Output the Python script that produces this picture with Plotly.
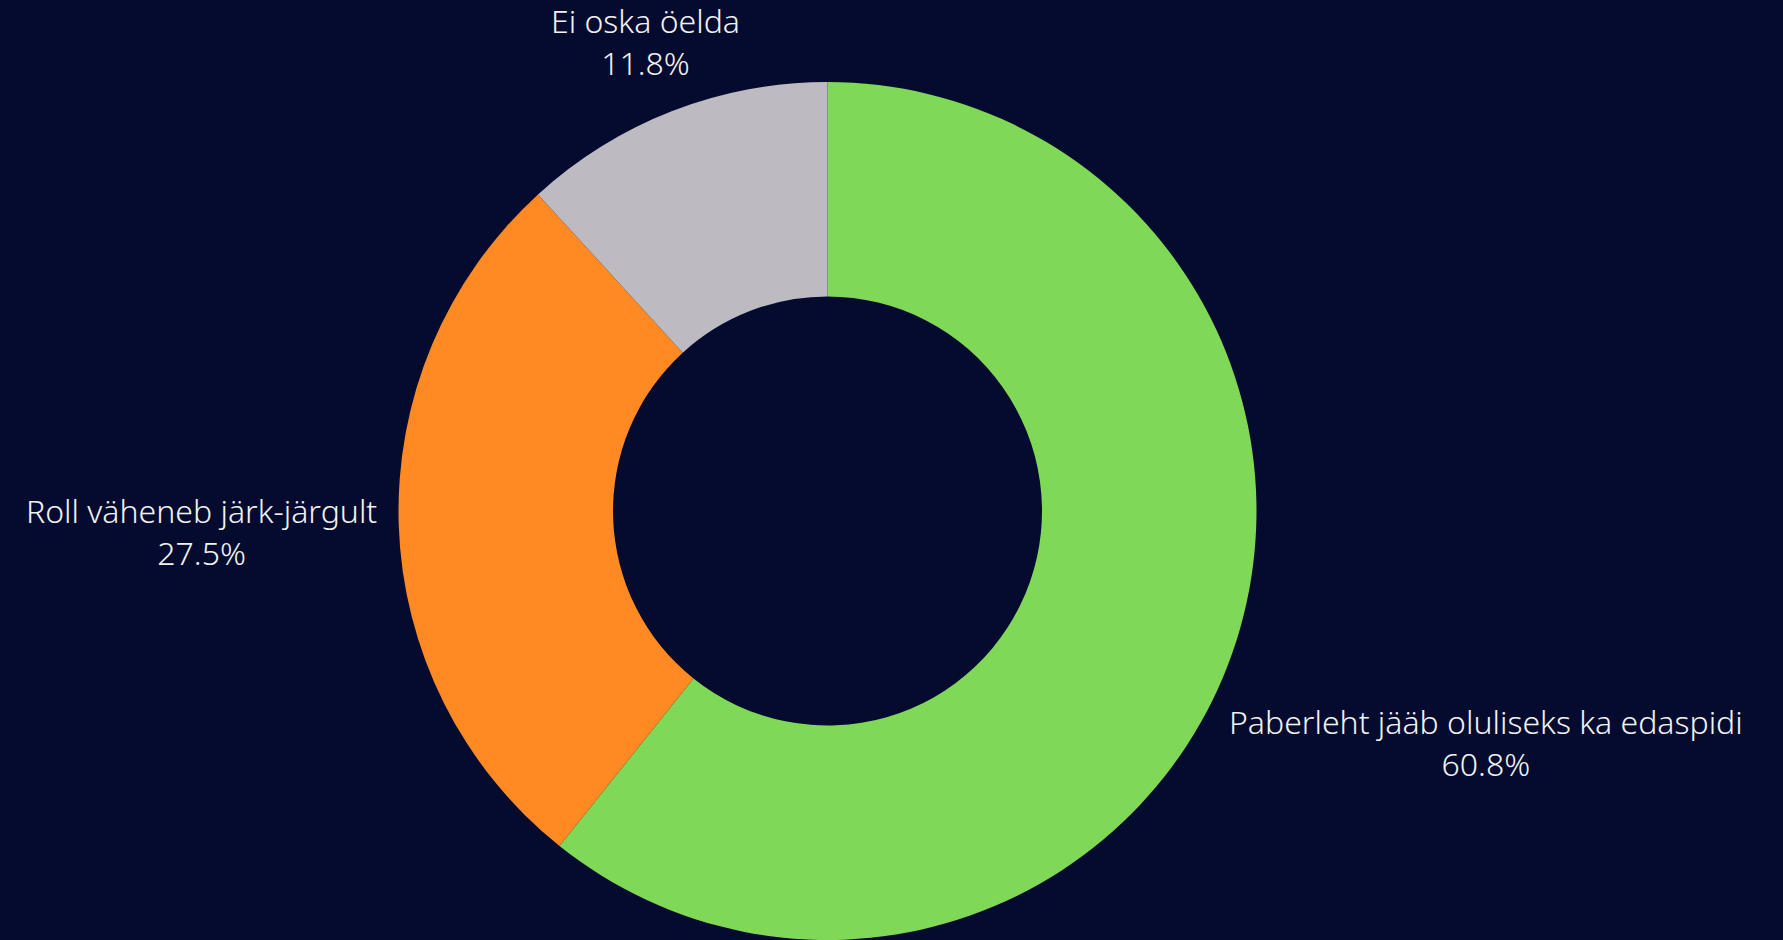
import math
import plotly.graph_objects as go

labels = ["Paberleht jääb oluliseks ka edaspidi", "Roll väheneb järk-järgult", "Ei oska öelda"]
values = [60.8, 27.5, 11.8]
colors = ["#7FD957", "#FF8A24", "#BEBAC1"]

W, H = 1783, 940
mar = dict(l=0, r=128, t=82, b=0)
fs = 32

fig = go.Figure()
fig.add_trace(go.Pie(
    labels=labels, values=values, hole=0.5, sort=False, direction="clockwise",
    marker=dict(colors=colors, line=dict(width=0)),
    textinfo="none", showlegend=False, hoverinfo="label+value",
))

# labels outside, box centred on each slice's mid ray, just clear of the ring
pw = W - mar["l"] - mar["r"]
ph = H - mar["t"] - mar["b"]
R = min(pw, ph) / 2
gap = 16
total = sum(values)
cum = 0
for lab, v in zip(labels, values):
    th = 2 * math.pi * (cum + v / 2) / total
    cum += v
    dx, dy = math.sin(th), math.cos(th)  # y up, like paper coords
    hw = 0.45 * fs * len(lab) / 2
    hh = 1.05 * fs
    t = R
    while True:
        cx = t * dx - math.copysign(hw, dx)
        cy = t * dy - math.copysign(hh, dy)
        if math.hypot(cx, cy) >= R + gap:
            break
        t += 1
    fig.add_annotation(
        x=0.5 + t * dx / pw, y=0.5 + t * dy / ph, xref="paper", yref="paper",
        text=f"{lab}<br>{v}%", showarrow=False, xanchor="center", yanchor="middle",
        font=dict(size=fs, color="#F2F2F2", family="Noto Sans", weight=300),
    )

fig.update_layout(width=W, height=H,
    paper_bgcolor="#040B2F", plot_bgcolor="#040B2F",
    margin=mar, font=dict(family="Noto Sans"))

fig.write_html("out.html", config={"displayModeBar": False},
               post_script="document.body.style.margin='0px';")
